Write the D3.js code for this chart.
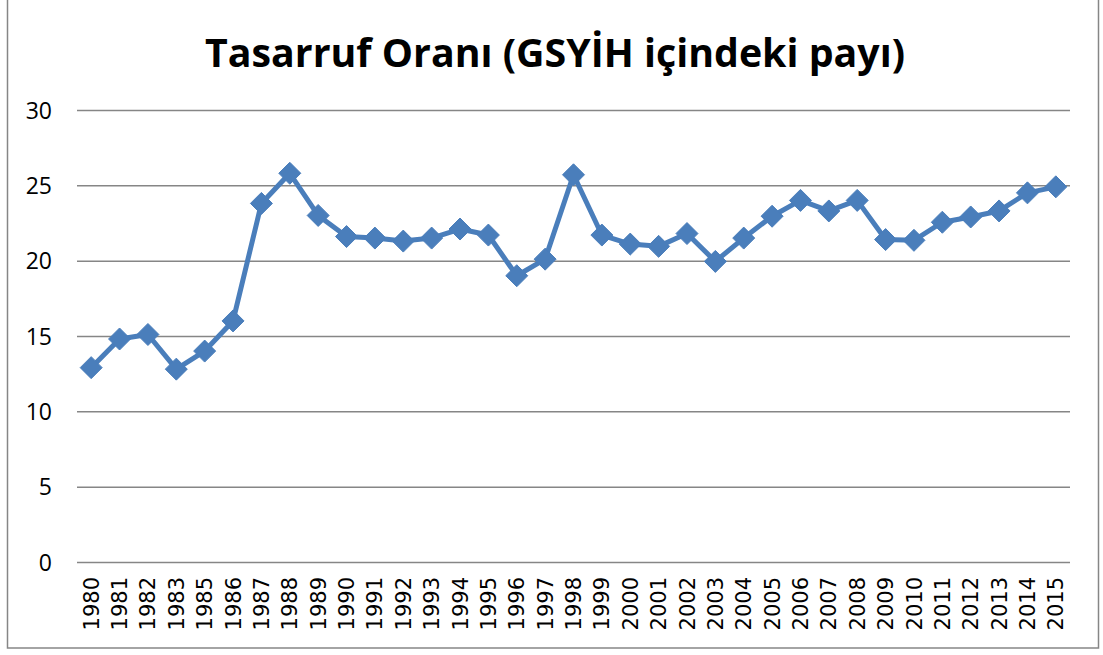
<!DOCTYPE html>
<html><head><meta charset="utf-8">
<script src="https://cdn.jsdelivr.net/npm/d3@7"></script>
<style>body{margin:0;background:#fff}svg{display:block}</style>
</head><body>
<script>
const years = ["1980","1981","1982","1983","1985","1986","1987","1988","1989","1990","1991","1992","1993","1994","1995","1996","1997","1998","1999","2000","2001","2002","2003","2004","2005","2006","2007","2008","2009","2010","2011","2012","2013","2014","2015"];
const values = [12.9,14.8,15.1,12.8,14.0,16.0,23.8,25.8,23.0,21.6,21.5,21.3,21.5,22.1,21.7,19.0,20.1,25.7,21.7,21.1,20.95,21.8,19.95,21.5,22.95,24.0,23.3,24.0,21.4,21.35,22.55,22.9,23.3,24.5,24.9];
const yTicks = [0,5,10,15,20,25,30];
const title = "Tasarruf Oranı (GSYİH içindeki payı)";

const W = 1103, H = 655;
const svg = d3.select("body").append("svg").attr("width", W).attr("height", H);
svg.append("rect").attr("x", 7.5).attr("y", -2).attr("width", 1091).attr("height", 650)
  .attr("fill", "#fff").attr("stroke", "#868686").attr("stroke-width", 1.5);

const mLeft = 77, mRight = 1070, mTop = 110, mBottom = 562;
const x = d3.scaleBand().domain(years).range([mLeft, mRight]);
const y = d3.scaleLinear().domain([0, 30]).range([mBottom, mTop]);

svg.append("text").attr("x", 555).attr("y", 67).attr("text-anchor", "middle")
  .attr("font-family", "Open Sans, sans-serif").attr("font-weight", "bold").attr("font-size", 40)
  .attr("textLength", 700).attr("lengthAdjust", "spacingAndGlyphs")
  .attr("fill", "#000").text(title);

const ga = svg.append("g").attr("transform", `translate(${mLeft},0)`)
  .call(d3.axisLeft(y).tickValues(yTicks).tickSize(-(mRight - mLeft)).tickPadding(25));
ga.select(".domain").remove();
ga.selectAll(".tick line").attr("stroke", "#868686").attr("stroke-width", 1.5);
ga.selectAll(".tick text").attr("font-family", "Open Sans, sans-serif").attr("font-size", 23).attr("fill", "#000").attr("dy", "0.36em");

const gx = svg.append("g").attr("transform", `translate(0,${mBottom})`)
  .call(d3.axisBottom(x).tickSize(0).tickPadding(8));
gx.select(".domain").remove();
gx.selectAll(".tick text").attr("font-family", "DejaVu Sans, sans-serif").attr("font-size", 21).attr("fill", "#000")
  .attr("transform", "rotate(-90)").attr("text-anchor", "end").attr("x", -15).attr("y", 0).attr("dy", "0.36em");

const line = d3.line().x((d, i) => x(years[i]) + x.bandwidth() / 2).y(d => y(d));
svg.append("path").datum(values).attr("d", line).attr("fill", "none")
  .attr("stroke", "#4A7EBB").attr("stroke-width", 5).attr("stroke-linejoin", "round");

svg.append("g").selectAll("path").data(values).join("path")
  .attr("transform", (d, i) => `translate(${x(years[i]) + x.bandwidth() / 2},${y(d)})`)
  .attr("d", "M0,-11L11,0L0,11L-11,0Z").attr("fill", "#4A7EBB").attr("stroke", "#4A7EBB").attr("stroke-width", 1);
</script>
</body></html>
